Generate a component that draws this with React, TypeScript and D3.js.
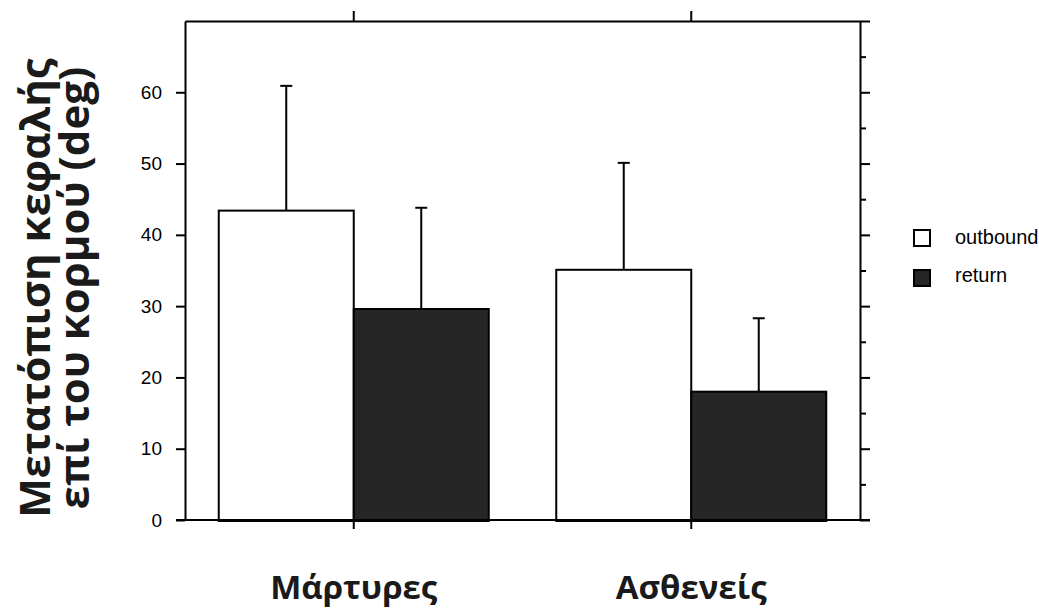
import React, { useEffect, useRef } from 'react';
import * as d3 from 'd3';

// Data
const groups = ['Μάρτυρες', 'Ασθενείς'];
const seriesNames = ['outbound', 'return'];
const outboundMean = [43.4, 35.1];
const outboundErr = [17.5, 15.0];
const returnMean = [29.6, 18.0];
const returnErr = [14.2, 10.3];
const yTicks = [0, 10, 20, 30, 40, 50, 60];
const yMajorRight = [0, 10, 20, 30, 40, 50, 60, 70];
const yMinorRight = [5, 15, 25, 35, 45, 55, 65];
const yTitle = ['Μετατόπιση κεφαλής', 'επί του κορμού (deg)'];

const fills = ['#ffffff', '#262626'];

const App = () => {
  const ref = useRef<SVGSVGElement | null>(null);

  useEffect(() => {
    if (!ref.current) return;
    const svg = d3.select(ref.current);
    svg.selectAll('*').remove();

    const margin = { top: 21, right: 179, bottom: 89, left: 185 };
    const W = 1039, H = 609;
    const width = W - margin.left - margin.right;
    const height = H - margin.top - margin.bottom;

    const g = svg.append('g').attr('transform', `translate(${margin.left},${margin.top})`);

    const x0 = d3.scaleBand().domain(groups).range([0, width]).padding(0);
    const x1 = d3.scaleBand().domain(seriesNames).range([0, x0.bandwidth()])
      .paddingInner(0).paddingOuter(0.25);
    const y = d3.scaleLinear().domain([0, 70]).range([height, 0]);

    const rows = groups.map((grp, i) => ({
      grp,
      vals: [
        { s: 'outbound', v: outboundMean[i], e: outboundErr[i] },
        { s: 'return', v: returnMean[i], e: returnErr[i] },
      ],
    }));

    // Error bars (up only)
    rows.forEach(r => {
      r.vals.forEach(d => {
        const cx = (x0(r.grp) as number) + (x1(d.s) as number) + x1.bandwidth() / 2;
        g.append('line')
          .attr('x1', cx).attr('x2', cx)
          .attr('y1', y(d.v)).attr('y2', y(d.v + d.e))
          .attr('stroke', '#000').attr('stroke-width', 2);
        g.append('line')
          .attr('x1', cx - 6).attr('x2', cx + 6)
          .attr('y1', y(d.v + d.e)).attr('y2', y(d.v + d.e))
          .attr('stroke', '#000').attr('stroke-width', 2);
      });
    });

    // Bars
    rows.forEach(r => {
      r.vals.forEach((d, j) => {
        g.append('rect')
          .attr('x', (x0(r.grp) as number) + (x1(d.s) as number))
          .attr('y', y(d.v))
          .attr('width', x1.bandwidth())
          .attr('height', y(0) - y(d.v) + 1)
          .attr('fill', fills[j])
          .attr('stroke', '#000')
          .attr('stroke-width', 2);
      });
    });

    const styleAxis = (sel: any) => {
      sel.selectAll('path').attr('stroke', '#000').attr('stroke-width', 2);
      sel.selectAll('line').attr('stroke', '#000').attr('stroke-width', 2);
    };

    // Left axis
    const left = g.append('g')
      .call(d3.axisLeft(y).tickValues(yTicks).tickSize(9).tickSizeOuter(0).tickPadding(14));
    styleAxis(left);
    left.selectAll('text')
      .attr('font-family', '"Liberation Sans", Arial, sans-serif')
      .attr('font-size', 19)
      .attr('fill', '#000');

    // Right axis
    const right = g.append('g').attr('transform', `translate(${width},0)`)
      .call(d3.axisRight(y).tickValues(yMajorRight).tickSize(10).tickSizeOuter(0).tickFormat(() => ''));
    styleAxis(right);
    const rightMinor = g.append('g').attr('transform', `translate(${width},0)`)
      .call(d3.axisRight(y).tickValues(yMinorRight).tickSize(6).tickSizeOuter(0).tickFormat(() => ''));
    styleAxis(rightMinor);
    rightMinor.select('path').remove();

    // Top & bottom axes
    const top = g.append('g')
      .call(d3.axisTop(x0).tickSize(10).tickSizeOuter(0).tickFormat(() => ''));
    styleAxis(top);
    const bottom = g.append('g').attr('transform', `translate(0,${height})`)
      .call(d3.axisBottom(x0).tickSize(9).tickSizeOuter(0).tickFormat(() => ''));
    styleAxis(bottom);
    bottom.select('path').attr('d', `M-9,0H${width + 10}`);

    // Category labels
    g.selectAll('text.cat')
      .data(groups)
      .enter()
      .append('text')
      .attr('class', 'cat')
      .attr('x', d => (x0(d) as number) + x0.bandwidth() / 2)
      .attr('y', height + 79)
      .attr('text-anchor', 'middle')
      .attr('font-family', '"Open Sans", sans-serif')
      .attr('font-weight', 700)
      .attr('font-size', 33)
      .attr('fill', '#1a1a1a')
      .text(d => d);

    // Y title
    const cy = 288;
    yTitle.forEach((t, i) => {
      svg.append('text')
        .attr('transform', `translate(${50 + i * 39},${cy}) rotate(-90)`)
        .attr('text-anchor', 'middle')
        .attr('font-family', '"Open Sans", sans-serif')
        .attr('font-weight', 700)
        .attr('font-size', 42)
        .attr('fill', '#1a1a1a')
        .text(t);
    });

    // Legend
    const leg = svg.append('g');
    seriesNames.forEach((s, i) => {
      leg.append('rect')
        .attr('x', 914).attr('y', 230 + i * 40)
        .attr('width', 16).attr('height', 16)
        .attr('fill', fills[i]).attr('stroke', '#000').attr('stroke-width', 2);
      leg.append('text')
        .attr('x', 955).attr('y', 244 + i * 38)
        .attr('font-family', '"Liberation Sans", Arial, sans-serif')
        .attr('font-size', 20)
        .attr('fill', '#000')
        .text(s);
    });
  }, []);

  return (
    <svg
      ref={ref}
      width={1039}
      height={609}
      style={{ position: 'absolute', left: 0, top: 0, background: '#fff' }}
    />
  );
};

export default App;
